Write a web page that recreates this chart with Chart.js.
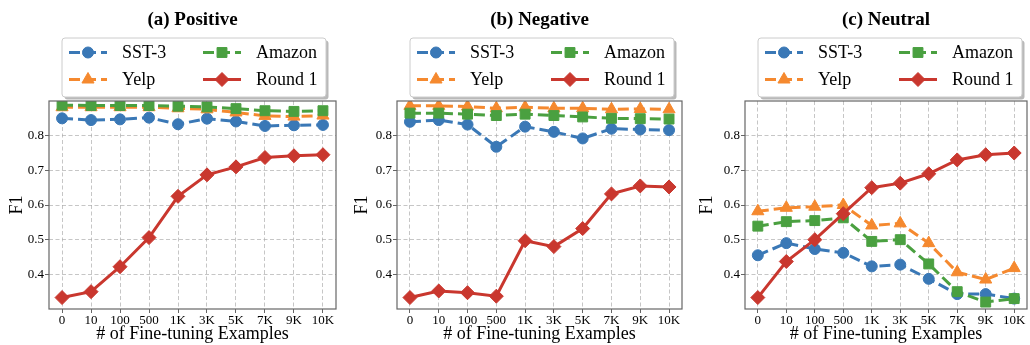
<!DOCTYPE html>
<html>
<head>
<meta charset="utf-8">
<script src="https://cdn.jsdelivr.net/npm/chart.js@4/dist/chart.umd.min.js"></script>
<style>
html, body { margin: 0; padding: 0; background: #fff; }
#wrap { position: relative; width: 1030px; height: 345px; overflow: hidden; }
.panel { position: absolute; top: 0; width: 345px; height: 345px; }
</style>
</head>
<body>
<div id="wrap">
    <div class="panel" style="left:0px"><canvas id="positiveChart" width="345" height="345"></canvas></div>
    <div class="panel" style="left:345px"><canvas id="negativeChart" width="345" height="345"></canvas></div>
    <div class="panel" style="left:690px"><canvas id="neutralChart" width="345" height="345"></canvas></div>
</div>
<script>

const xLabels = ["0", "10", "100", "500", "1K", "3K", "5K", "7K", "9K", "10K"];
const yTicks = [0.4, 0.5, 0.6, 0.7, 0.8];
const seriesNames = ["SST-3", "Yelp", "Amazon", "Round 1"];

// (a) Positive
const posSST3   = [0.850, 0.845, 0.847, 0.852, 0.833, 0.849, 0.841, 0.828, 0.830, 0.831];
const posYelp   = [0.882, 0.882, 0.882, 0.882, 0.879, 0.876, 0.867, 0.857, 0.855, 0.858];
const posAmazon = [0.888, 0.887, 0.887, 0.887, 0.885, 0.883, 0.878, 0.872, 0.870, 0.872];
const posRound1 = [0.333, 0.350, 0.422, 0.506, 0.625, 0.687, 0.710, 0.737, 0.742, 0.745];

// (b) Negative
const negSST3   = [0.840, 0.845, 0.832, 0.768, 0.826, 0.811, 0.792, 0.820, 0.818, 0.816];
const negYelp   = [0.886, 0.886, 0.884, 0.879, 0.882, 0.879, 0.879, 0.876, 0.877, 0.876];
const negAmazon = [0.865, 0.865, 0.862, 0.858, 0.862, 0.858, 0.854, 0.850, 0.849, 0.848];
const negRound1 = [0.333, 0.352, 0.347, 0.337, 0.497, 0.480, 0.532, 0.632, 0.655, 0.652];

// (c) Neutral
const neuSST3   = [0.455, 0.490, 0.473, 0.462, 0.423, 0.428, 0.387, 0.343, 0.343, 0.330];
const neuYelp   = [0.582, 0.592, 0.595, 0.600, 0.541, 0.547, 0.490, 0.406, 0.385, 0.418];
const neuAmazon = [0.539, 0.552, 0.555, 0.563, 0.495, 0.500, 0.430, 0.350, 0.320, 0.330];
const neuRound1 = [0.333, 0.437, 0.500, 0.575, 0.650, 0.663, 0.690, 0.730, 0.745, 0.750];

const SERIF = '"Liberation Serif", "DejaVu Serif", serif';
const FRAME = "#666666";

const styles = [
    { color: "#3a78b6", point: "circle",   radius: 5.5, dash: [11, 5] },
    { color: "#f5892f", point: "triangle", radius: 7,   dash: [11, 5] },
    { color: "#4aa040", point: "rect",     radius: 7,   dash: [11, 5] },
    { color: "#c9372e", point: "rectRot",  radius: 7,   dash: [] }
];

// frame, title and the two-column legend drawn by hand (matplotlib look)
const decorPlugin = {

    id: "decor",

    afterDraw(chart, args, opts) {

        const ctx = chart.ctx;
        const a = chart.chartArea;

        ctx.save();

        ctx.strokeStyle = FRAME;
        ctx.lineWidth = 1.2;
        ctx.strokeRect(a.left, a.top, a.right - a.left, a.bottom - a.top);

        ctx.fillStyle = "#000";
        ctx.font = "bold 19px " + SERIF;
        ctx.textAlign = "center";
        ctx.textBaseline = "middle";
        ctx.fillText(opts.title, (a.left + a.right) / 2, 20);

        // legend box
        const bx = a.left + 13, by = 38, bw = 264, bh = 59;

        ctx.fillStyle = "#b9b9b9";
        roundRect(ctx, bx + 2.5, by + 2.5, bw, bh, 3);
        ctx.fill();

        ctx.fillStyle = "#ffffff";
        ctx.strokeStyle = "#cccccc";
        ctx.lineWidth = 1;
        roundRect(ctx, bx, by, bw, bh, 3);
        ctx.fill();
        ctx.stroke();

        chart.data.datasets.forEach((ds, i) => {

            const st = styles[i];
            const col = Math.floor(i / 2);
            const row = i % 2;
            const x0 = bx + (col === 0 ? 7 : 141);
            const y = by + (row === 0 ? 14.5 : 41.5);

            ctx.strokeStyle = st.color;
            ctx.lineWidth = 3;
            ctx.setLineDash(st.dash);
            ctx.beginPath();
            ctx.moveTo(x0, y);
            ctx.lineTo(x0 + 38, y);
            ctx.stroke();
            ctx.setLineDash([]);

            ctx.fillStyle = st.color;
            ctx.lineWidth = 1;
            Chart.helpers.drawPoint(ctx, {
                pointStyle: st.point,
                radius: st.radius,
                rotation: 0,
                borderWidth: 1
            }, x0 + 19, y);

            ctx.fillStyle = "#000";
            ctx.font = "18px " + SERIF;
            ctx.textAlign = "left";
            ctx.textBaseline = "middle";
            ctx.fillText(ds.label, x0 + 53, y + 1);

        });

        ctx.restore();

    }

};

function roundRect(ctx, x, y, w, h, r) {
    ctx.beginPath();
    ctx.moveTo(x + r, y);
    ctx.arcTo(x + w, y, x + w, y + h, r);
    ctx.arcTo(x + w, y + h, x, y + h, r);
    ctx.arcTo(x, y + h, x, y, r);
    ctx.arcTo(x, y, x + w, y, r);
    ctx.closePath();
}

function makeDatasets(lists) {
    return lists.map((values, i) => ({
        label: seriesNames[i],
        data: values.map((v, k) => ({ x: k, y: v })),
        borderColor: styles[i].color,
        backgroundColor: styles[i].color,
        borderWidth: 3,
        borderDash: styles[i].dash,
        pointStyle: styles[i].point,
        pointRadius: styles[i].radius,
        pointBackgroundColor: styles[i].color,
        pointBorderColor: styles[i].color,
        pointBorderWidth: 1,
        tension: 0,
        order: 3 - i
    }));
}

function renderPanel(canvasId, title, lists, plotLeft, plotRight) {

    new Chart(

        document.getElementById(canvasId),

        {
            type: "line",

            data: {
                datasets: makeDatasets(lists)
            },

            options: {
                responsive: false,
                animation: false,
                layout: {
                    padding: { top: 101, left: 0, right: 345 - plotRight, bottom: 0 }
                },
                plugins: {
                    legend: { display: false },
                    tooltip: { enabled: false },
                    decor: { title: title }
                },
                scales: {
                    x: {
                        type: "linear",
                        min: -0.45,
                        max: 9.45,
                        afterBuildTicks: s => { s.ticks = xLabels.map((l, k) => ({ value: k })); },
                        afterFit: s => { s.height = 36; },
                        ticks: {
                            callback: v => xLabels[v],
                            color: "#000",
                            padding: 1,
                            maxRotation: 0,
                            autoSkip: false,
                            font: { family: SERIF, size: 13, lineHeight: 1 }
                        },
                        grid: {
                            color: "rgba(170,170,170,0.85)",
                            lineWidth: 0.8,
                            tickLength: 4,
                            tickColor: FRAME,
                            tickWidth: 1
                        },
                        border: { display: false, dash: [4, 2.5] },
                        title: {
                            display: true,
                            text: "# of Fine-tuning Examples",
                            color: "#000",
                            padding: { top: 0, bottom: 0 },
                            font: { family: SERIF, size: 18 }
                        }
                    },
                    y: {
                        min: 0.3,
                        max: 0.9,
                        afterBuildTicks: s => { s.ticks = yTicks.map(v => ({ value: v })); },
                        afterFit: s => { s.width = plotLeft; },
                        ticks: {
                            callback: v => v.toFixed(1),
                            color: "#000",
                            padding: 1,
                            font: { family: SERIF, size: 13, lineHeight: 1 }
                        },
                        grid: {
                            color: "rgba(170,170,170,0.85)",
                            lineWidth: 0.8,
                            tickLength: 4,
                            tickColor: FRAME,
                            tickWidth: 1
                        },
                        border: { display: false, dash: [4, 2.5] },
                        title: {
                            display: true,
                            text: "F1",
                            color: "#000",
                            padding: { top: 6, bottom: 0 },
                            font: { family: SERIF, size: 18 }
                        }
                    }
                }
            },

            plugins: [decorPlugin]
        }

    );

}

renderPanel("positiveChart", "(a) Positive", [posSST3, posYelp, posAmazon, posRound1], 49, 336);

renderPanel("negativeChart", "(b) Negative", [negSST3, negYelp, negAmazon, negRound1], 52, 340);

renderPanel("neutralChart", "(c) Neutral", [neuSST3, neuYelp, neuAmazon, neuRound1], 55, 343);

</script>
</body>
</html>
